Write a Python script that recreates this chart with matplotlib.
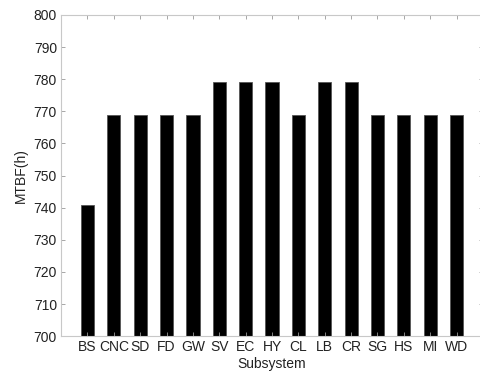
import matplotlib.pyplot as plt

subsystems = ["BS", "CNC", "SD", "FD", "GW", "SV", "EC", "HY", "CL", "LB", "CR", "SG", "HS", "MI", "WD"]
mtbf = [741, 769, 769, 769, 769, 779, 779, 779, 769, 779, 779, 769, 769, 769, 769]
yticks = list(range(700, 801, 10))

plt.rcParams['font.family'] = ['Liberation Sans', 'DejaVu Sans']
plt.rcParams['font.size'] = 10

fig = plt.figure(figsize=(4.81, 3.74), dpi=100)
ax = fig.add_axes([0.127, 0.101, 0.877, 0.859])

pos = list(range(1, len(subsystems) + 1))
ax.bar(pos, mtbf, width=0.5, color='black', edgecolor='#555555', linewidth=0.6)

ax.set_xlim(0, 16)
ax.set_ylim(700, 800)
ax.set_xticks(pos)
ax.set_xticklabels(subsystems)
ax.set_yticks(yticks)

for s in ax.spines.values():
    s.set_color('#c8c8c8')
    s.set_linewidth(0.8)
ax.spines['right'].set_visible(False)
ax.tick_params(direction='in', top=True, right=True, color='#999999', length=3,
               labelcolor='#222222', width=0.6, pad=3)

ax.set_xlabel("Subsystem", color='#222222', labelpad=2)
ax.set_ylabel("MTBF(h)", color='#222222', labelpad=4)

fig.savefig("out.png", dpi=100)
